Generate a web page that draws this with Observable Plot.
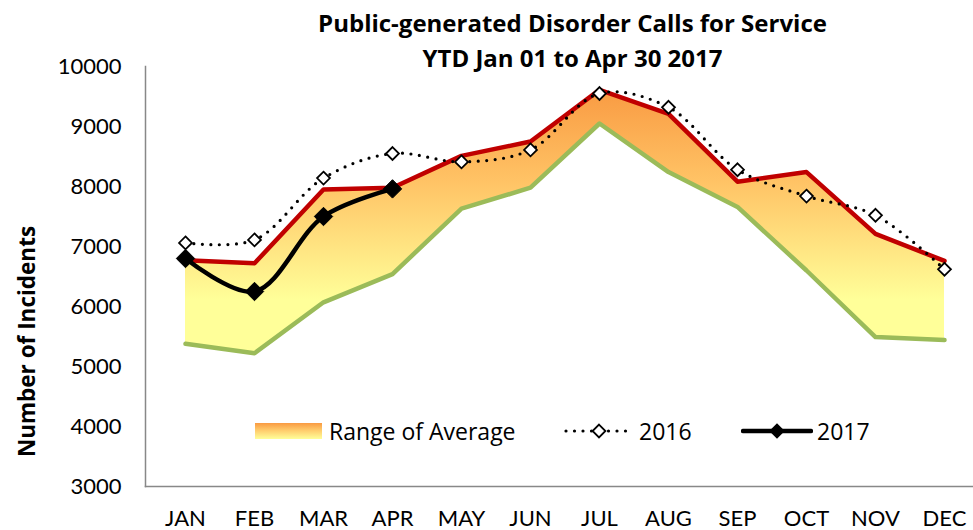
<!DOCTYPE html>
<html>
<head>
<meta charset="utf-8">
<script src="https://cdn.jsdelivr.net/npm/d3@7"></script>
<script src="https://cdn.jsdelivr.net/npm/@observablehq/plot@0.6"></script>
<style>
  html, body { margin: 0; padding: 0; background: #fff; }
  #wrap { position: relative; width: 973px; height: 530px; overflow: hidden; font-family: Lato, "Open Sans", sans-serif; }
  #title { position: absolute; top: 5px; left: 145px; width: 855px; text-align: center; font-family: "Open Sans", sans-serif; font-weight: bold; font-size: 24px; line-height: 35px; color: #000; }
  #legend { position: absolute; top: 416px; left: 0; width: 973px; height: 30px; font-family: "Open Sans", sans-serif; font-size: 23px; color: #000; }
  .li { position: absolute; top: 0; height: 30px; display: flex; align-items: center; }
  .li svg { display: block; }
  .li span { margin-left: 6px; }
</style>
</head>
<body>
<div id="wrap">
  <div id="chart"></div>
  <div id="title"></div>
  <div id="legend"></div>
</div>
<script>
const titleLines = ["Public-generated Disorder Calls for Service", "YTD Jan 01 to Apr 30 2017"];
const yLabel = "Number of Incidents";
const months = ["JAN","FEB","MAR","APR","MAY","JUN","JUL","AUG","SEP","OCT","NOV","DEC"];
const rangeHigh = [6770, 6720, 7950, 7980, 8510, 8750, 9610, 9210, 8080, 8240, 7210, 6760];
const rangeLow  = [5380, 5220, 6070, 6540, 7630, 7980, 9050, 8240, 7660, 6600, 5490, 5440];
const values2016 = [7060, 7110, 8140, 8550, 8410, 8610, 9550, 9320, 8280, 7840, 7520, 6620];
const values2017 = [6800, 6250, 7500, 7960];
const yTicks = [3000, 4000, 5000, 6000, 7000, 8000, 9000, 10000];
const legendLabels = ["Range of Average", "2016", "2017"];

const rangeData = months.map((m, i) => ({month: m, low: rangeLow[i], high: rangeHigh[i]}));
const data2016 = months.map((m, i) => ({month: m, value: values2016[i]}));
const data2017 = values2017.map((v, i) => ({month: months[i], value: v}));

const chart = Plot.plot({
  width: 973,
  height: 530,
  marginLeft: 145,
  marginRight: 0,
  marginTop: 66,
  marginBottom: 44,
  style: {fontFamily: "Lato, 'Open Sans', sans-serif", fontSize: "22px", color: "#000", background: "#fff"},
  x: {type: "point", domain: months, range: [180, 949], padding: 0, label: null},
  y: {domain: [3000, 10000], label: null},
  marks: [
    Plot.areaY(rangeData, {x: "month", y1: "low", y2: "high", fill: "url(#rangeGrad)"}),
    Plot.lineY(rangeData, {x: "month", y: "low", stroke: "#9BBB59", strokeWidth: 4.5}),
    Plot.lineY(rangeData, {x: "month", y: "high", stroke: "#C00000", strokeWidth: 4.5}),
    Plot.lineY(data2016, {x: "month", y: "value", curve: "catmull-rom", stroke: "#000", strokeWidth: 3.2, strokeDasharray: "0 8.5", strokeLinecap: "round"}),
    Plot.dot(data2016, {x: "month", y: "value", symbol: "diamond2", r: 5.8, fill: "#fff", stroke: "#000", strokeWidth: 1.8}),
    Plot.lineY(data2017, {x: "month", y: "value", curve: "catmull-rom", stroke: "#000", strokeWidth: 4.5}),
    Plot.dot(data2017, {x: "month", y: "value", symbol: "diamond2", r: 8.3, fill: "#000", stroke: "#000", strokeWidth: 1}),
    Plot.axisX({tickSize: 0, tickPadding: 24, fontSize: 22}),
    Plot.axisY({ticks: yTicks, tickSize: 0, tickPadding: 24, fontSize: 22, tickFormat: d => String(d)}),
    Plot.frame({anchor: "left", stroke: "#888", strokeWidth: 1.5}),
    Plot.frame({anchor: "bottom", stroke: "#888", strokeWidth: 1.5}),
    Plot.text([yLabel], {frameAnchor: "left", textAnchor: "middle", rotate: -90, dx: -118, dy: 65, fontWeight: "bold", fontSize: 22.5, fontFamily: "'Open Sans', sans-serif", fill: "#000"})
  ]
});

// gradient definition for the range area
const svg = d3.select(chart);
const defs = svg.insert("defs", ":first-child");
const grad = defs.append("linearGradient").attr("id", "rangeGrad")
  .attr("gradientUnits", "userSpaceOnUse").attr("x1", 0).attr("x2", 0).attr("y1", 88).attr("y2", 300);
grad.append("stop").attr("offset", "0%").attr("stop-color", "#F99A42");
grad.append("stop").attr("offset", "45%").attr("stop-color", "#FFC466");
grad.append("stop").attr("offset", "100%").attr("stop-color", "#FFFF99");

document.getElementById("chart").appendChild(chart);

// title
const t = d3.select("#title");
titleLines.forEach(l => t.append("div").text(l));

// legend
const lg = d3.select("#legend");
// range swatch
const item1 = lg.append("div").attr("class", "li").style("left", "255px");
const s1 = item1.append("svg").attr("width", 68).attr("height", 30);
const g1 = s1.append("defs").append("linearGradient").attr("id", "legGrad").attr("x1", 0).attr("x2", 0).attr("y1", 0).attr("y2", 1);
g1.append("stop").attr("offset", "0%").attr("stop-color", "#F99A42");
g1.append("stop").attr("offset", "45%").attr("stop-color", "#FFCB6B");
g1.append("stop").attr("offset", "100%").attr("stop-color", "#FFFF99");
s1.append("rect").attr("x", 0).attr("y", 7).attr("width", 67).attr("height", 16).attr("fill", "url(#legGrad)");
item1.append("span").text(legendLabels[0]);
// 2016
const item2 = lg.append("div").attr("class", "li").style("left", "563px");
const s2 = item2.append("svg").attr("width", 72).attr("height", 30);
s2.append("line").attr("x1", 3).attr("x2", 70).attr("y1", 15).attr("y2", 15)
  .attr("stroke", "#000").attr("stroke-width", 3.2).attr("stroke-dasharray", "0 8.5").attr("stroke-linecap", "round");
s2.append("path").attr("d", d3.symbol(d3.symbolDiamond2, Math.PI * 5.8 * 5.8)()).attr("transform", "translate(36,15)")
  .attr("fill", "#fff").attr("stroke", "#000").attr("stroke-width", 1.8);
item2.append("span").text(legendLabels[1]).style("margin-left", "4px");
// 2017
const item3 = lg.append("div").attr("class", "li").style("left", "741px");
const s3 = item3.append("svg").attr("width", 72).attr("height", 30);
s3.append("line").attr("x1", 2).attr("x2", 70).attr("y1", 15).attr("y2", 15)
  .attr("stroke", "#000").attr("stroke-width", 4.5).attr("stroke-linecap", "round");
s3.append("path").attr("d", d3.symbol(d3.symbolDiamond2, Math.PI * 7 * 7)()).attr("transform", "translate(36,15)")
  .attr("fill", "#000");
item3.append("span").text(legendLabels[2]).style("margin-left", "4px");
</script>
</body>
</html>
